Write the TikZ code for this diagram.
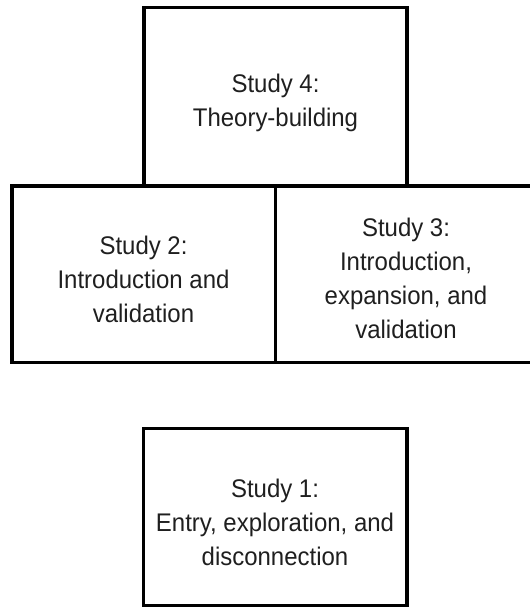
\documentclass[tikz,border=0pt]{standalone}
\usepackage{fontspec}
\setmainfont{Liberation Sans}[FakeStretch=0.94]
\begin{document}
\begin{tikzpicture}[x=1pt,y=-1pt,
  studybox/.style={draw=black,line width=3.5pt,rectangle,inner sep=0pt,outer sep=0pt,
    minimum width=263.3pt},
  studytext/.style={align=center,inner sep=0pt,text=black!88,
    font=\fontsize{25.5}{34}\selectfont}]
\clip (0,0) rectangle (530,608);
\node[studybox,minimum height=178.5pt] (b4) at (275.5,96.75) {};
\node[studybox,minimum height=176.7pt] (b2) at (143.65,274.35) {};
\node[studybox,minimum height=176.7pt] (b3) at (406.95,274.35) {};
\node[studybox,minimum height=176.6pt] (b1) at (275.25,517) {};
\node[studytext] (t4) at (275.5,103) {Study 4:\\Theory-building};
\node[studytext] (t2) at (143.5,279) {Study 2:\\Introduction and\\validation};
\node[studytext] (t3) at (406,278) {Study 3:\\Introduction,\\expansion, and\\validation};
\node[studytext] (t1) at (275,522) {Study 1:\\Entry, exploration, and\\disconnection};
\end{tikzpicture}
\end{document}
